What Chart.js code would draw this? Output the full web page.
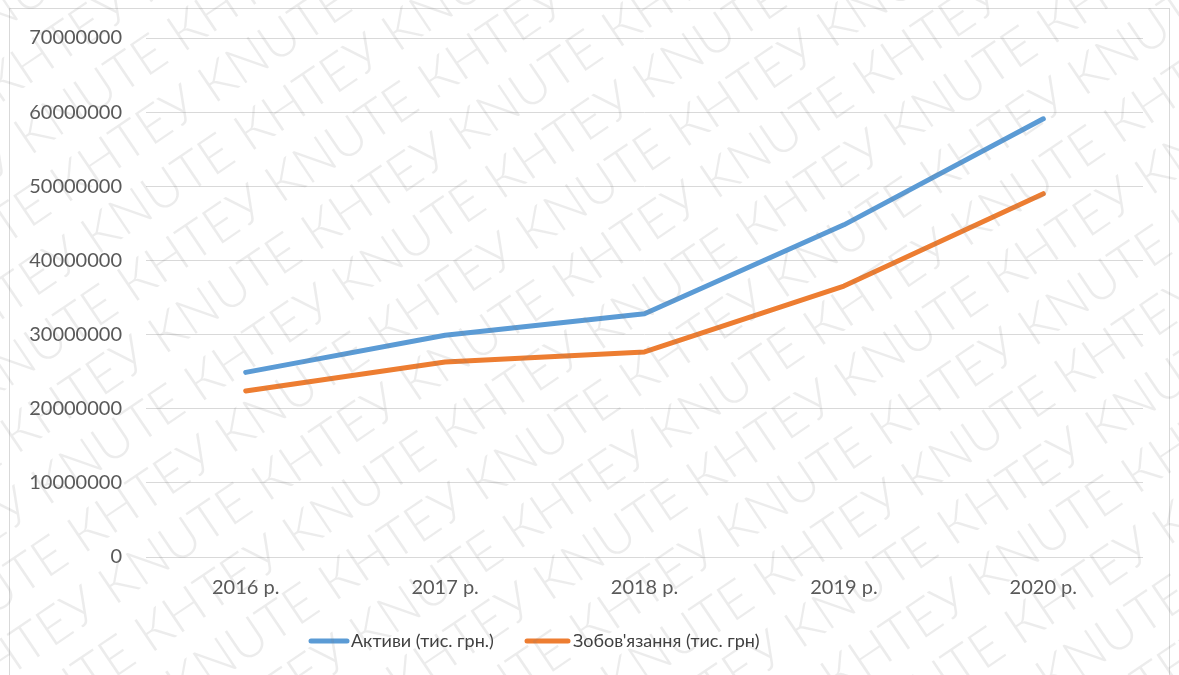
<!DOCTYPE html>
<html>
<head>
<meta charset="utf-8">
<script src="https://cdn.jsdelivr.net/npm/chart.js@4/dist/chart.umd.min.js"></script>
<style>
html,body{margin:0;padding:0;background:#fff;}
#wrap{width:1179px;height:675px;position:relative;}
</style>
</head>
<body>
<div id="wrap"><canvas id="c" width="1179" height="675"></canvas></div>
<script>
const categories = ["2016 р.", "2017 р.", "2018 р.", "2019 р.", "2020 р."];
const assets = [24900000, 29900000, 32800000, 44800000, 59100000];
const liabilities = [22400000, 26300000, 27650000, 36550000, 49000000];
const seriesNames = ["Активи (тис. грн.)", "Зобов'язання (тис. грн)"];
const yTicks = [0, 10000000, 20000000, 30000000, 40000000, 50000000, 60000000, 70000000];

const FONT = "Lato, 'Open Sans', sans-serif";

const decor = {
  id: 'decor',
  beforeDraw(chart) {
    const ctx = chart.ctx;
    ctx.save();
    ctx.fillStyle = '#fff';
    ctx.fillRect(0, 0, chart.width, chart.height);
    ctx.strokeStyle = '#d9d9d9';
    ctx.lineWidth = 1;
    ctx.strokeRect(9.5, 8.5, 1160, 700);
    ctx.restore();
  },
  afterDraw(chart) {
    const ctx = chart.ctx;
    // legend
    ctx.save();
    ctx.font = "18px " + FONT;
    ctx.textBaseline = 'middle';
    const ly = 641;
    const lines = [[311, 347, 351], [527, 568, 573]];
    chart.data.datasets.forEach((ds, i) => {
      const L = lines[i];
      ctx.strokeStyle = ds.borderColor;
      ctx.lineWidth = 5;
      ctx.lineCap = 'round';
      ctx.beginPath();
      ctx.moveTo(L[0], ly);
      ctx.lineTo(L[1], ly);
      ctx.stroke();
      ctx.fillStyle = '#404040';
      ctx.fillText(ds.label, L[2], ly);
    });
    ctx.restore();
    // watermark
    ctx.save();
    ctx.beginPath();
    ctx.rect(0, 0, chart.width, chart.height);
    ctx.clip();
    ctx.translate(chart.width / 2, chart.height / 2);
    ctx.rotate(-34 * Math.PI / 180);
    ctx.font = "300 52px " + FONT;
    ctx.fillStyle = 'rgba(120,120,120,0.14)';
    ctx.textBaseline = 'middle';
    const unit = "KNUTE КНТЕУ ";
    const w = ctx.measureText(unit).width;
    const rowH = 60;
    for (let r = -14; r <= 14; r++) {
      const off = ((r * 0.5) % 1) * w;
      for (let k = -6; k <= 6; k++) {
        ctx.fillText(unit, k * w - off, r * rowH);
      }
    }
    ctx.restore();
  }
};

new Chart(document.getElementById('c'), {
  type: 'line',
  data: {
    labels: categories,
    datasets: [
      { label: seriesNames[0], data: assets, borderColor: '#5B9BD5', backgroundColor: '#5B9BD5',
        borderWidth: 5, pointRadius: 0, tension: 0, borderCapStyle: 'round', borderJoinStyle: 'round' },
      { label: seriesNames[1], data: liabilities, borderColor: '#ED7D31', backgroundColor: '#ED7D31',
        borderWidth: 5, pointRadius: 0, tension: 0, borderCapStyle: 'round', borderJoinStyle: 'round' }
    ]
  },
  options: {
    responsive: false,
    animation: false,
    layout: { padding: { top: 38, right: 36, bottom: 52, left: 0 } },
    plugins: {
      legend: { display: false },
      tooltip: { enabled: false }
    },
    scales: {
      x: {
        offset: true,
        grid: { display: false, drawTicks: false },
        border: { display: false },
        ticks: { color: '#595959', font: { family: FONT, size: 20 }, padding: 19, maxRotation: 0 },
        afterFit(s) { s.height = 66; }
      },
      y: {
        min: 0, max: 70000000,
        afterBuildTicks(s) { s.ticks = yTicks.map(v => ({ value: v })); },
        grid: { color: '#d9d9d9', lineWidth: 1, drawTicks: false },
        border: { display: false },
        ticks: { color: '#595959', font: { family: FONT, size: 20 }, padding: 24,
          callback: v => String(v) },
        afterFit(s) { s.width = 146; }
      }
    }
  },
  plugins: [decor]
});
</script>
</body>
</html>
